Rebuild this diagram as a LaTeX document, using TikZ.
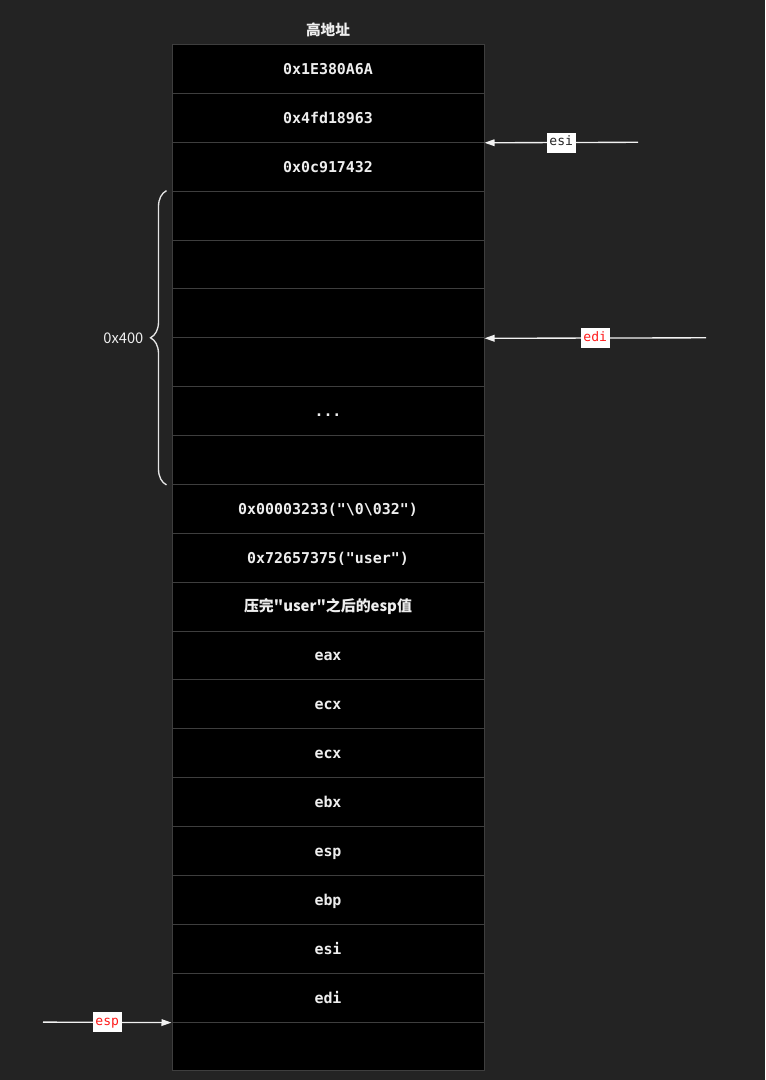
\documentclass[tikz,border=0pt]{standalone}
\usepackage{fontspec}
\setmainfont{Liberation Sans}
\newfontfamily\cjk{Noto Sans CJK SC}
\newfontfamily\mono{DejaVu Sans Mono}
\usetikzlibrary{arrows.meta,decorations.pathreplacing}
\definecolor{bg}{HTML}{232323}
\definecolor{cellline}{HTML}{3E3E3E}
\definecolor{txt}{HTML}{EEEEEE}
\definecolor{tagred}{HTML}{FF1A1A}
\begin{document}
\begin{tikzpicture}[x=0.75pt,y=-0.75pt,
  cell/.style={draw=cellline, fill=black, line width=0.75pt, minimum width=234pt,
    minimum height=36.66pt, inner sep=0pt, text=txt, text height=8.6pt, text depth=0.6pt,
    font=\mono\bfseries\fontsize{11.2}{13}\selectfont},
  ptr/.style={draw=white!95!black, line width=1pt, -{Triangle[length=7.5pt,width=5pt]}},
  tag/.style={fill=white, inner xsep=2pt, inner ysep=0pt, minimum height=15pt,
    text height=7.2pt, text depth=2pt,
    font=\mono\fontsize{9.8}{11}\selectfont},
  lbl/.style={text=txt, font=\cjk\fontsize{11}{13}\selectfont}]
\fill[bg] (0,0) rectangle (765,1080);
\useasboundingbox (0,0) rectangle (765,1080);

\node[lbl] (hdr) at (328,30) {\bfseries 高地址};

\node[cell] (c0)  at (328,68.94)  {0x1E380A6A};
\node[cell] (c1)  at (328,117.82) {0x4fd18963};
\node[cell] (c2)  at (328,166.70) {0x0c917432};
\node[cell] (c3)  at (328,215.58) {};
\node[cell] (c4)  at (328,264.46) {};
\node[cell] (c5)  at (328,313.34) {};
\node[cell] (c6)  at (328,362.22) {};
\node[cell] (c7)  at (328,411.10) {...};
\node[cell] (c8)  at (328,459.98) {};
\node[cell] (c9)  at (328,508.86) {0x00003233("\textbackslash 0\textbackslash 032")};
\node[cell] (c10) at (328,557.74) {0x72657375("user")};
\node[cell] (c11) at (328,606.62) {{\cjk\bfseries 压完"user"之后的esp值}};
\node[cell] (c12) at (328,655.50) {eax};
\node[cell] (c13) at (328,704.38) {ecx};
\node[cell] (c14) at (328,753.26) {ecx};
\node[cell] (c15) at (328,802.14) {ebx};
\node[cell] (c16) at (328,851.02) {esp};
\node[cell] (c17) at (328,899.90) {ebp};
\node[cell] (c18) at (328,948.78) {esi};
\node[cell] (c19) at (328,997.66) {edi};
\node[cell] (c20) at (328,1046.54) {};

% brace
\draw[decorate, decoration={brace, amplitude=12pt}, line width=1pt, draw=white!90!black]
  ([xshift=-3.75pt]c8.south west) -- ([xshift=-3.75pt]c3.north west);
\node[lbl, anchor=east] (size) at (148,337.8) {0x400};

% pointers
\coordinate (esiStart) at (638,142.3);
\coordinate (ediStart) at (706,337.8);
\coordinate (espStart) at (43,1022.1);
\draw[ptr] (esiStart) -- (c1.south east) node[tag, midway, text=black!85] (esiTag) {esi};
\draw[ptr] (ediStart) -- (c5.south east) node[tag, midway, text=tagred] (ediTag) {edi};
\draw[ptr] (espStart) -- (c19.south west) node[tag, midway, text=tagred] (espTag) {esp};
\end{tikzpicture}
\end{document}
